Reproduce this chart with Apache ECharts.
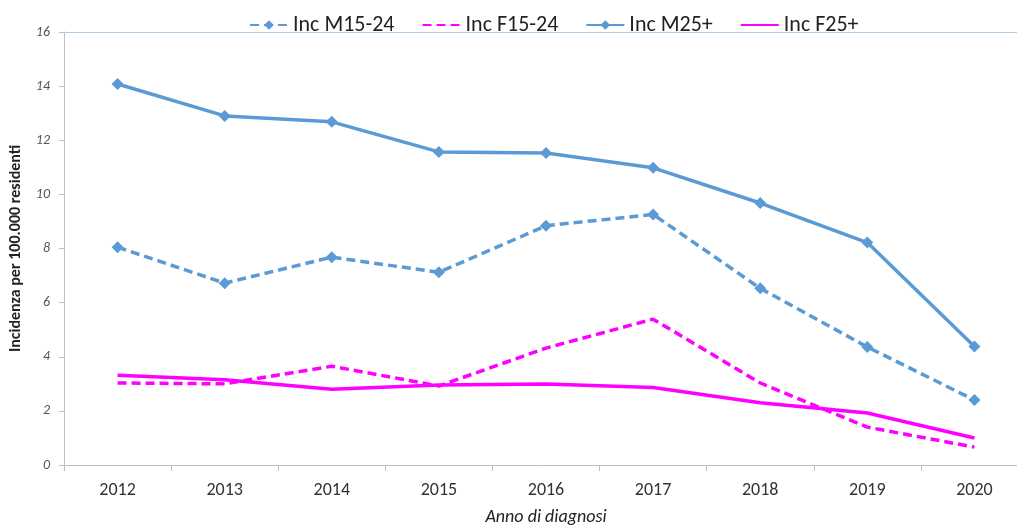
<!DOCTYPE html>
<html>
<head>
<meta charset="utf-8">
<script src="https://cdn.jsdelivr.net/npm/echarts@6/dist/echarts.min.js"></script>
<style>
  html, body { margin: 0; padding: 0; background: #fff; }
  #chart { width: 1017px; height: 525px; }
</style>
</head>
<body>
<div id="chart"></div>
<script>
const years = ['2012', '2013', '2014', '2015', '2016', '2017', '2018', '2019', '2020']
const incM1524 = [8.05, 6.72, 7.68, 7.12, 8.84, 9.26, 6.53, 4.36, 2.4]
const incF1524 = [3.03, 3.0, 3.65, 2.92, 4.32, 5.39, 3.03, 1.4, 0.66]
const incM25 = [14.08, 12.9, 12.68, 11.57, 11.53, 10.98, 9.68, 8.22, 4.38]
const incF25 = [3.32, 3.15, 2.8, 2.96, 2.99, 2.86, 2.3, 1.92, 1.0]

const BLUE = '#5b9bd5'
const MAGENTA = '#ff00ff'
const FONT = 'Carlito, Lato, "Liberation Sans", sans-serif'

let chart = echarts.init(document.getElementById('chart'))

function lineSeries(name, data, color, dashed, marker) {
  return {
    name: name,
    type: 'line',
    data: data,
    symbol: marker ? 'diamond' : 'none',
    symbolSize: 12,
    showSymbol: marker,
    itemStyle: { color: color },
    lineStyle: {
      color: color,
      width: 3.5,
      type: dashed ? [9, 5] : 'solid'
    },
    emphasis: { disabled: true }
  }
}

chart.setOption({
  backgroundColor: '#fff',
  animation: false,
  textStyle: { fontFamily: FONT },
  legend: {
    top: 9,
    left: 244,
    itemWidth: 38,
    itemHeight: 12,
    itemGap: 27,
    textStyle: { fontSize: 22, color: '#222', fontFamily: FONT },
    data: [
      { name: 'Inc M15-24' },
      { name: 'Inc F15-24', itemStyle: { opacity: 0 } },
      { name: 'Inc M25+' },
      { name: 'Inc F25+', itemStyle: { opacity: 0 } }
    ]
  },
  grid: {
    left: 64,
    right: -11,
    top: 32,
    bottom: 60,
    containLabel: false,
    outerBoundsMode: 'none'
  },
  xAxis: [
    {
      type: 'category',
      data: years,
      boundaryGap: true,
      name: 'Anno di diagnosi',
      nameLocation: 'middle',
      nameGap: 43,
      nameTextStyle: { fontSize: 18, fontStyle: 'italic', color: '#222', fontFamily: FONT },
      axisLine: { lineStyle: { color: '#bfbfbf', width: 1 } },
      axisTick: { show: true, alignWithLabel: false, length: 6, lineStyle: { color: '#bfbfbf' } },
      axisLabel: { fontSize: 18, color: '#333', margin: 16, fontFamily: FONT },
      splitLine: { show: false }
    },
    {
      type: 'category',
      data: years,
      position: 'top',
      axisLine: { lineStyle: { color: '#b4cbe8', width: 1 } },
      axisTick: { show: false },
      axisLabel: { show: false },
      splitLine: { show: false }
    }
  ],
  yAxis: {
    type: 'value',
    min: 0,
    max: 16,
    interval: 2,
    name: 'Incidenza per 100.000 residenti',
    nameLocation: 'middle',
    nameGap: 40,
    nameTextStyle: { fontSize: 16, fontWeight: 'bold', color: '#222', fontFamily: FONT },
    axisLine: { show: true, lineStyle: { color: '#bfbfbf', width: 1 } },
    axisTick: { show: true, length: 5, lineStyle: { color: '#bfbfbf' } },
    axisLabel: { fontSize: 14, fontStyle: 'italic', color: '#555', margin: 14, fontFamily: FONT },
    splitLine: { show: false }
  },
  series: [
    lineSeries('Inc M15-24', incM1524, BLUE, true, true),
    lineSeries('Inc F15-24', incF1524, MAGENTA, true, false),
    lineSeries('Inc M25+', incM25, BLUE, false, true),
    lineSeries('Inc F25+', incF25, MAGENTA, false, false)
  ]
})
</script>
</body>
</html>
